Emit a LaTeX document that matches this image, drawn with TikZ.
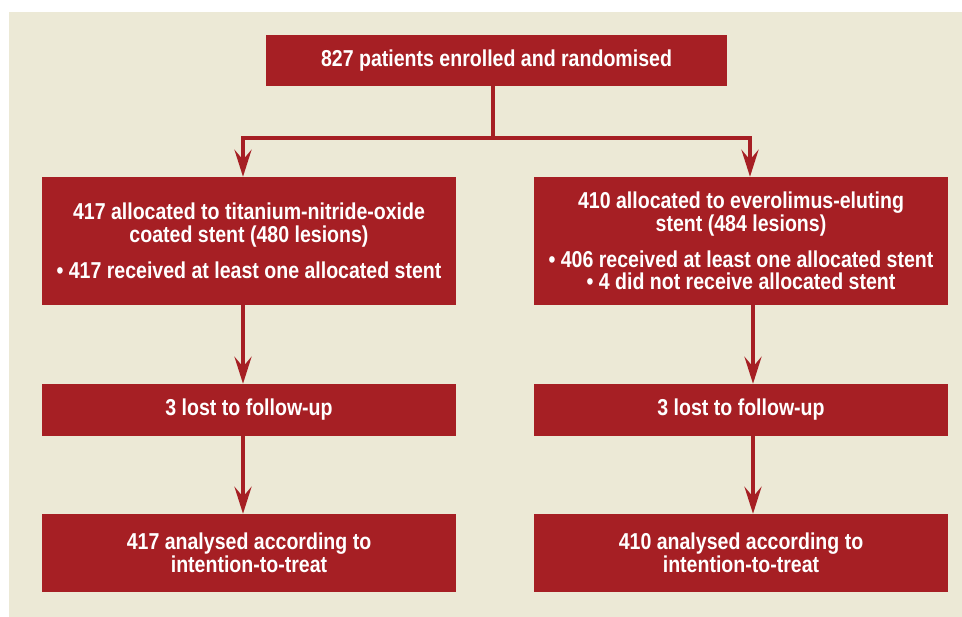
\documentclass[tikz,border=0pt]{standalone}
\usepackage{fontspec}
\setmainfont{Liberation Sans}[FakeStretch=0.85]
\usetikzlibrary{arrows.meta}
\definecolor{boxred}{RGB}{166,31,36}
\definecolor{panel}{RGB}{236,233,214}
\begin{document}
\begin{tikzpicture}[x=1pt,y=-1pt,
  box/.style={fill=boxred,draw=none,inner sep=0pt,text=white,align=center,
    font=\fontsize{23}{22.5}\selectfont\bfseries},
  link/.style={draw=boxred,line width=4pt},
  arr/.style={link,-{Stealth[length=27pt,width=17pt,inset=10pt]}}]
\useasboundingbox (0,0) rectangle (962,617);
\fill[white] (0,0) rectangle (962,617);
\fill[panel] (9,12) rectangle (962,617);
\node[box,minimum width=461pt,minimum height=51pt] (top) at (496.5,60.5) {827 patients enrolled and randomised};
\node[box,minimum width=414pt,minimum height=128pt] (l1) at (249,241) {417 allocated to titanium-nitride-oxide\\coated stent (480 lesions)\\[13.5pt]\textbullet\ 417 received at least one allocated stent};
\node[box,minimum width=414pt,minimum height=128pt] (r1) at (741,241) {410 allocated to everolimus-eluting\\stent (484 lesions)\\[13.5pt]\textbullet\ 406 received at least one allocated stent\\\textbullet\ 4 did not receive allocated stent};
\node[box,minimum width=414pt,minimum height=52pt] (l2) at (249,410) {3 lost to follow-up};
\node[box,minimum width=414pt,minimum height=52pt] (r2) at (741,410) {3 lost to follow-up};
\node[box,minimum width=414pt,minimum height=78pt] (l3) at (249,553) {417 analysed according to\\intention-to-treat};
\node[box,minimum width=414pt,minimum height=78pt] (r3) at (741,553) {410 analysed according to\\intention-to-treat};
\coordinate (fork) at ([xshift=-3.5pt,yshift=-52pt]top.south);
\draw[link] ([xshift=-3.5pt]top.south) -- (fork);
\draw[arr] (fork) -| ([xshift=-6pt]l1.north);
\draw[arr] (fork) -| ([xshift=9pt]r1.north);
\draw[arr] ([xshift=-6pt]l1.south) -- ([xshift=-6pt]l2.north);
\draw[arr] ([xshift=-6pt]l2.south) -- ([xshift=-6pt]l3.north);
\draw[arr] ([xshift=12pt]r1.south) -- ([xshift=12pt]r2.north);
\draw[arr] ([xshift=12pt]r2.south) -- ([xshift=12pt]r3.north);
\end{tikzpicture}
\end{document}
